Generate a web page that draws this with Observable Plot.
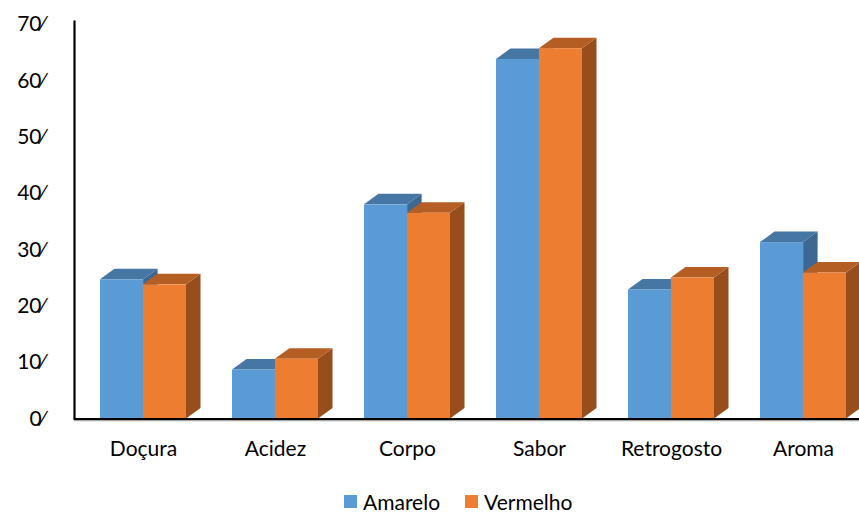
<!DOCTYPE html>
<html>
<head>
<meta charset="utf-8">
<script src="https://cdn.jsdelivr.net/npm/d3@7"></script>
<script src="https://cdn.jsdelivr.net/npm/@observablehq/plot@0.6"></script>
<style>
  html, body { margin: 0; padding: 0; background: #fff; overflow: hidden; }
  body { width: 859px; height: 515px; position: relative; font-family: Lato, "Open Sans", sans-serif; }
  #chart { position: absolute; left: 0; top: 0; }
  #legend { position: absolute; left: 344px; top: 489px; display: flex; align-items: center; font-size: 21px; line-height: 25px; height: 25px; color: #000; }
  #legend .sw { width: 13px; height: 13px; display: inline-block; margin-right: 6px; }
  #legend .item { display: flex; align-items: center; margin-right: 25px; }
</style>
</head>
<body>
<div id="chart"></div>
<div id="legend"></div>
<script>
const categories = ["Doçura", "Acidez", "Corpo", "Sabor", "Retrogosto", "Aroma"];
const series = ["Amarelo", "Vermelho"];
const amarelo = [24.7, 8.7, 38.0, 63.8, 22.9, 31.3];
const vermelho = [23.8, 10.6, 36.5, 65.7, 25.0, 25.9];
const yTicks = [0, 10, 20, 30, 40, 50, 60, 70];

const frontColors = ["#5b9bd5", "#ed7d31"];
const topColors = ["#4676a3", "#b45e23"];
const sideColors = ["#3c6892", "#974d1c"];
const depthX = 14.5, depthY = -10.5;

const rows = [];
categories.forEach((c, i) => {
  rows.push({cat: c, series: series[0], value: amarelo[i]});
  rows.push({cat: c, series: series[1], value: vermelho[i]});
});

const width = 859, height = 478;
const xRange = [77, 869];
const step = (xRange[1] - xRange[0]) / categories.length;
const half = step * 0.65 / 2;

const plot = Plot.plot({
  width, height,
  marginLeft: 74, marginRight: 0, marginTop: 24, marginBottom: 59.5,
  style: {fontFamily: "Lato, 'Open Sans', sans-serif", fontSize: "21px", color: "#000", background: "#fff"},
  x: {domain: categories, range: xRange, paddingInner: 0.35, paddingOuter: 0.175, label: null},
  y: {domain: [0, 70], label: null},
  marks: [
    Plot.barY(rows.filter(d => d.series === series[0]), {x: "cat", y: "value", fill: frontColors[0], insetRight: half}),
    Plot.barY(rows.filter(d => d.series === series[1]), {x: "cat", y: "value", fill: frontColors[1], insetLeft: half}),
    Plot.ruleY([0], {stroke: "#a6a6a6", strokeWidth: 1.5, dy: 1.5}),
    Plot.ruleY([0], {stroke: "#000", strokeWidth: 2}),
    Plot.frame({anchor: "left", stroke: "#000", strokeWidth: 2.2, insetTop: -3}),
    Plot.axisY({ticks: yTicks, tickSize: 0, tickPadding: 30, tickFormat: d => d + "\u2044", fontSize: 21}),
    Plot.axisX({tickSize: 0, tickPadding: 22, fontSize: 21})
  ]
});

// Add 3D top and side faces around each front rect, derived from the rendered scale positions
const svg = d3.select(plot);
svg.selectAll('g[aria-label="bar"]').each(function(_, gi) {
  const g = d3.select(this);
  g.selectAll("rect").each(function() {
    const r = d3.select(this);
    const x = +r.attr("x"), y = +r.attr("y"), w = +r.attr("width"), h = +r.attr("height");
    const side = [[x + w, y + h], [x + w, y], [x + w + depthX, y + depthY], [x + w + depthX, y + h + depthY]];
    const top = [[x, y], [x + depthX, y + depthY], [x + w + depthX, y + depthY], [x + w, y]];
    const node = this;
    const ps = document.createElementNS("http://www.w3.org/2000/svg", "polygon");
    ps.setAttribute("points", side.map(p => p.join(",")).join(" "));
    ps.setAttribute("fill", sideColors[gi]);
    const pt = document.createElementNS("http://www.w3.org/2000/svg", "polygon");
    pt.setAttribute("points", top.map(p => p.join(",")).join(" "));
    pt.setAttribute("fill", topColors[gi]);
    node.parentNode.insertBefore(ps, node);
    node.parentNode.insertBefore(pt, node);
  });
});

document.getElementById("chart").appendChild(plot);

const legend = document.getElementById("legend");
series.forEach((s, i) => {
  const item = document.createElement("span");
  item.className = "item";
  const sw = document.createElement("span");
  sw.className = "sw";
  sw.style.background = frontColors[i];
  item.appendChild(sw);
  item.appendChild(document.createTextNode(s));
  legend.appendChild(item);
});
</script>
</body>
</html>
